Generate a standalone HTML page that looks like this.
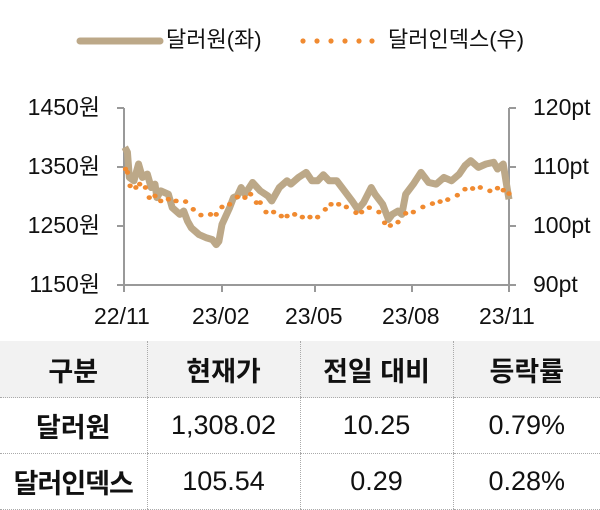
<!DOCTYPE html>
<html><head><meta charset="utf-8"><style>
body{margin:0;width:600px;height:504px;background:#fff;overflow:hidden;position:relative;font-family:"Liberation Sans","Noto Sans CJK KR",sans-serif;color:#111}
.t{position:absolute;white-space:nowrap;line-height:1;font-size:23px}
table{position:absolute;left:0;top:341px;width:600px;border-collapse:collapse;table-layout:fixed}
td{text-align:center;font-size:27px;padding:0;border-left:1px dotted #aaa;border-bottom:1px dotted #aaa}
td:first-child{border-left:none;font-weight:bold}
tr.h td{background:#f2f2f2;font-weight:bold;height:56px}
tr.r td{height:55px}
</style></head><body>
<svg width="600" height="504" style="position:absolute;left:0;top:0">
<line x1="80" y1="41" x2="160" y2="41" stroke="#bca888" stroke-width="7" stroke-linecap="round"/>
<g fill="#f08a30"><circle cx="303" cy="41" r="2.6"/><circle cx="317" cy="41" r="2.6"/><circle cx="331" cy="41" r="2.6"/><circle cx="345" cy="41" r="2.6"/><circle cx="359" cy="41" r="2.6"/><circle cx="372" cy="41" r="2.6"/></g>
<g stroke="#999" stroke-width="2" fill="none">
<line x1="124" y1="108" x2="124" y2="285"/><line x1="509" y1="108" x2="509" y2="285"/>
<line x1="124" y1="285" x2="509" y2="285"/>
<line x1="117" y1="108" x2="124" y2="108"/><line x1="117" y1="167" x2="124" y2="167"/><line x1="117" y1="226" x2="124" y2="226"/><line x1="117" y1="285" x2="124" y2="285"/>
<line x1="509" y1="108" x2="516" y2="108"/><line x1="509" y1="167" x2="516" y2="167"/><line x1="509" y1="226" x2="516" y2="226"/><line x1="509" y1="285" x2="516" y2="285"/>
<line x1="222" y1="285" x2="222" y2="292"/><line x1="315" y1="285" x2="315" y2="292"/><line x1="412" y1="285" x2="412" y2="292"/><line x1="124" y1="285" x2="124" y2="292"/><line x1="509" y1="285" x2="509" y2="292"/>
</g>
<g transform="translate(0,80) scale(0.3827,0.336)">
<polyline fill="none" stroke="#bca888" stroke-width="7" vector-effect="non-scaling-stroke" stroke-linejoin="round" points="326,200 333,215 338,290 350,300 362,250 372,290 385,280 395,320 405,310 410,350 420,330 440,340 450,380 470,400 480,390 490,420 500,440 520,460 540,470 555,475 565,490 572,480 580,430 600,380 610,350 620,345 630,320 640,340 660,305 680,330 700,345 710,360 730,320 750,300 760,310 780,290 800,275 815,300 830,300 845,282 860,300 880,300 900,330 920,360 935,385 950,365 970,320 980,340 1000,370 1015,415 1025,400 1040,390 1050,400 1060,340 1080,310 1100,275 1120,305 1140,310 1160,290 1180,300 1200,280 1215,255 1230,240 1250,260 1270,250 1290,245 1300,265 1315,250 1322,300 1330,355"/>
<g fill="#f08a30">
<circle cx="328" cy="265" r="7"/><circle cx="333" cy="275" r="7"/><circle cx="340" cy="315" r="7"/><circle cx="355" cy="320" r="7"/><circle cx="365" cy="310" r="7"/><circle cx="380" cy="320" r="7"/><circle cx="390" cy="350" r="7"/><circle cx="405" cy="345" r="7"/><circle cx="420" cy="360" r="7"/><circle cx="440" cy="355" r="7"/><circle cx="460" cy="360" r="7"/><circle cx="485" cy="362" r="7"/><circle cx="505" cy="385" r="7"/><circle cx="525" cy="402" r="7"/><circle cx="550" cy="400" r="7"/><circle cx="565" cy="400" r="7"/><circle cx="580" cy="378" r="7"/><circle cx="600" cy="370" r="7"/><circle cx="620" cy="348" r="7"/><circle cx="640" cy="350" r="7"/><circle cx="655" cy="340" r="7"/><circle cx="670" cy="365" r="7"/><circle cx="680" cy="365" r="7"/><circle cx="695" cy="393" r="7"/><circle cx="715" cy="393" r="7"/><circle cx="735" cy="405" r="7"/><circle cx="750" cy="405" r="7"/><circle cx="770" cy="400" r="7"/><circle cx="790" cy="408" r="7"/><circle cx="810" cy="408" r="7"/><circle cx="830" cy="408" r="7"/><circle cx="850" cy="385" r="7"/><circle cx="865" cy="370" r="7"/><circle cx="885" cy="370" r="7"/><circle cx="905" cy="378" r="7"/><circle cx="930" cy="395" r="7"/><circle cx="945" cy="393" r="7"/><circle cx="965" cy="380" r="7"/><circle cx="990" cy="393" r="7"/><circle cx="1005" cy="425" r="7"/><circle cx="1020" cy="433" r="7"/><circle cx="1040" cy="423" r="7"/><circle cx="1060" cy="397" r="7"/><circle cx="1080" cy="393" r="7"/><circle cx="1105" cy="378" r="7"/><circle cx="1130" cy="368" r="7"/><circle cx="1150" cy="362" r="7"/><circle cx="1170" cy="356" r="7"/><circle cx="1195" cy="343" r="7"/><circle cx="1215" cy="325" r="7"/><circle cx="1235" cy="323" r="7"/><circle cx="1255" cy="320" r="7"/><circle cx="1280" cy="330" r="7"/><circle cx="1300" cy="322" r="7"/><circle cx="1315" cy="328" r="7"/><circle cx="1330" cy="338" r="7"/>
</g></g>
</svg>
<div class="t" style="left:166px;top:29px;font-size:22px">달러원(좌)</div>
<div class="t" style="left:388px;top:29px;font-size:22px">달러인덱스(우)</div>
<div class="t" style="right:500px;top:96px">1450원</div>
<div class="t" style="right:500px;top:155px">1350원</div>
<div class="t" style="right:500px;top:214px">1250원</div>
<div class="t" style="right:500px;top:273px">1150원</div>
<div class="t" style="left:533px;top:96px">120pt</div>
<div class="t" style="left:533px;top:155px">110pt</div>
<div class="t" style="left:533px;top:214px">100pt</div>
<div class="t" style="left:533px;top:273px">90pt</div>
<div class="t" style="left:94px;top:305px">22/11</div>
<div class="t" style="left:192px;top:305px">23/02</div>
<div class="t" style="left:285px;top:305px">23/05</div>
<div class="t" style="left:382px;top:305px">23/08</div>
<div class="t" style="left:479px;top:305px">23/11</div>
<table>
<colgroup><col style="width:147px"><col style="width:153px"><col style="width:153px"><col style="width:147px"></colgroup>
<tr class="h"><td>구분</td><td>현재가</td><td>전일 대비</td><td>등락률</td></tr>
<tr class="r"><td>달러원</td><td>1,308.02</td><td>10.25</td><td>0.79%</td></tr>
<tr class="r"><td style="letter-spacing:-1px">달러인덱스</td><td>105.54</td><td>0.29</td><td>0.28%</td></tr>
</table>
</body></html>
